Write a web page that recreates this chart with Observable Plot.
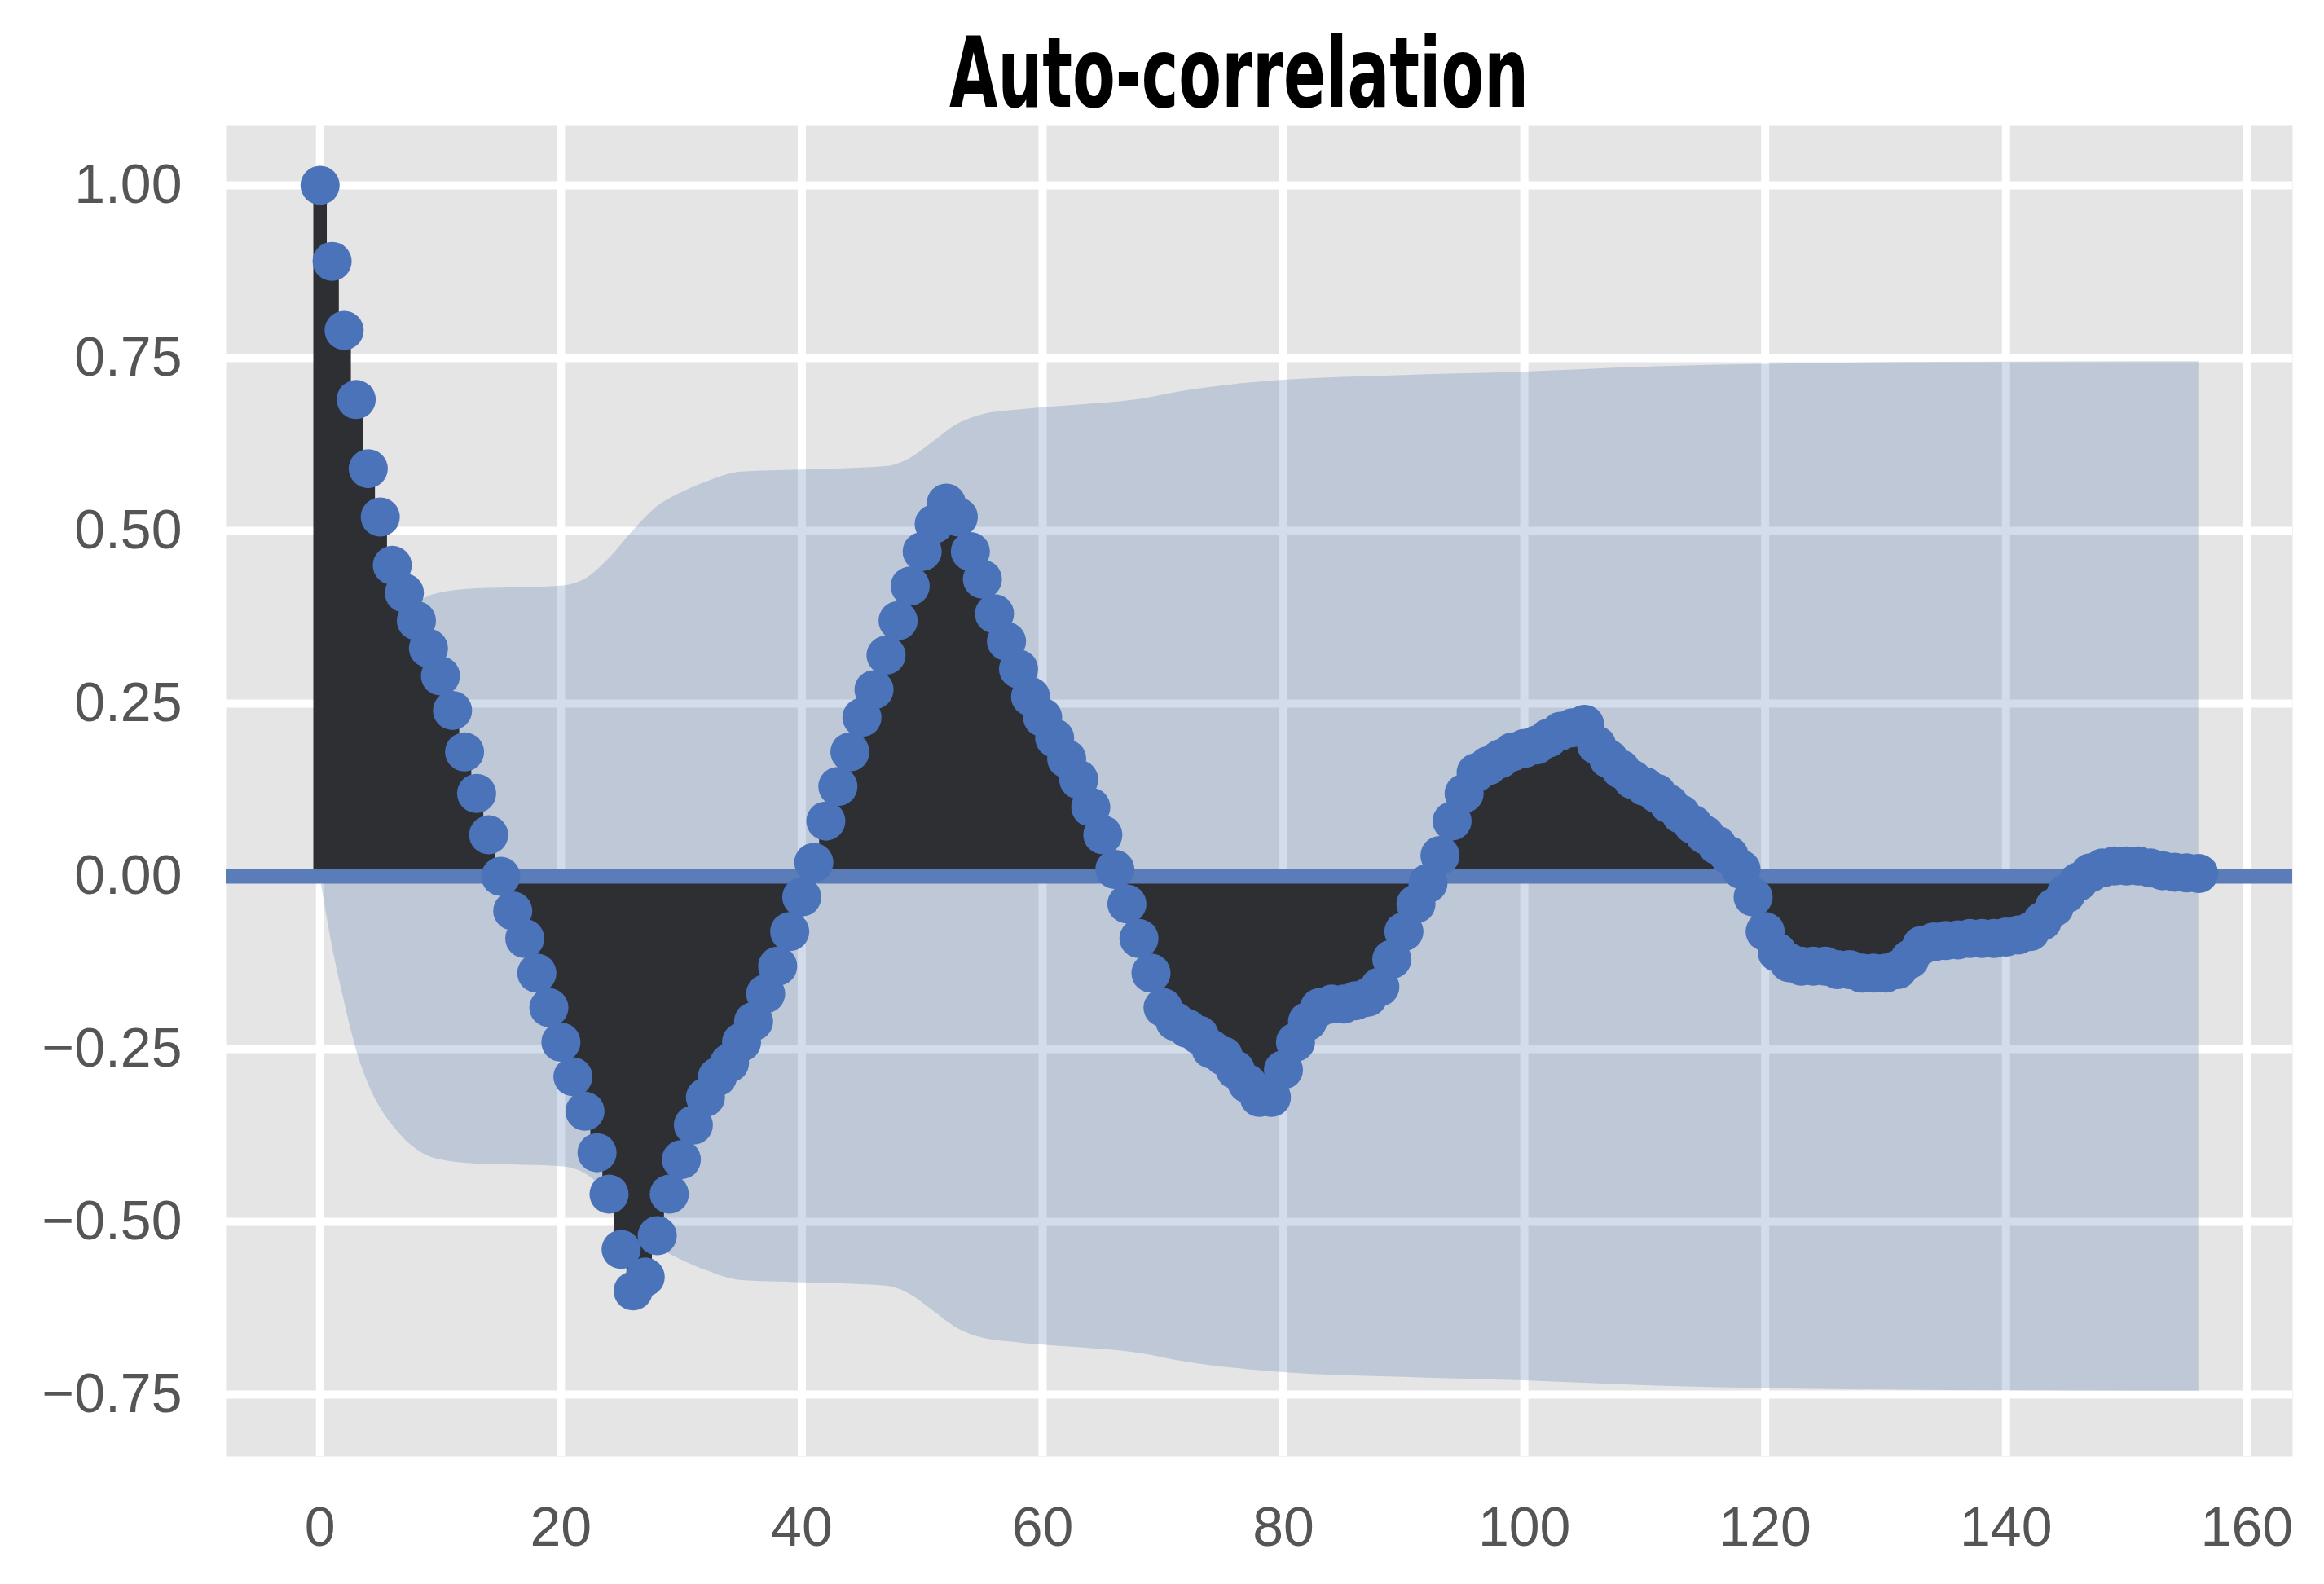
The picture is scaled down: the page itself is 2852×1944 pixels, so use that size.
<!DOCTYPE html>
<html>
<head>
<meta charset="utf-8">
<script src="https://cdn.jsdelivr.net/npm/d3@7"></script>
<script src="https://cdn.jsdelivr.net/npm/@observablehq/plot@0.6"></script>
<style>
  html, body { margin: 0; padding: 0; background: #ffffff; }
  #page { position: relative; width: 2852px; height: 1944px; }
  #titlebox { position: absolute; left: 0; top: 0; width: 2852px; height: 150px; }
  #title {
    position: absolute; top: 30px; left: 1164px;
    font-family: 'Liberation Sans Narrow', 'DejaVu Sans Condensed', 'Liberation Sans', sans-serif;
    font-weight: 700; font-size: 120px; line-height: 120px; color: #000;
    white-space: nowrap; transform-origin: 0 0;
  }
  #chart { position: absolute; left: 0; top: 150px; }
</style>
</head>
<body>
<div id="page">
  <div id="titlebox"><span id="title">Auto-correlation</span></div>
  <div id="chart"></div>
</div>
<script>
// Autocorrelation value at each lag (lags 0..156)
const acf = [
  1.00, 0.89, 0.79, 0.69, 0.59, 0.52, 0.45, 0.41, 0.37, 0.33,
  0.29, 0.24, 0.18, 0.12, 0.06, 0.00, -0.05, -0.09, -0.14, -0.19,
  -0.24, -0.29, -0.34, -0.40, -0.46, -0.54, -0.60, -0.58, -0.52, -0.46,
  -0.41, -0.36, -0.32, -0.29, -0.27, -0.24, -0.21, -0.17, -0.13, -0.08,
  -0.03, 0.02, 0.08, 0.13, 0.18, 0.23, 0.27, 0.32, 0.37, 0.42,
  0.47, 0.51, 0.54, 0.52, 0.47, 0.43, 0.38, 0.34, 0.30, 0.26,
  0.23, 0.20, 0.17, 0.14, 0.10, 0.06, 0.01, -0.04, -0.09, -0.14,
  -0.19, -0.21, -0.22, -0.23, -0.25, -0.26, -0.28, -0.30, -0.32, -0.32,
  -0.28, -0.24, -0.21, -0.19, -0.185, -0.185, -0.18, -0.175, -0.16, -0.12,
  -0.08, -0.04, -0.01, 0.03, 0.08, 0.12, 0.15, 0.16, 0.17, 0.18,
  0.185, 0.19, 0.20, 0.21, 0.215, 0.22, 0.19, 0.17, 0.155, 0.14,
  0.13, 0.12, 0.105, 0.09, 0.075, 0.06, 0.045, 0.03, 0.01, -0.03,
  -0.08, -0.11, -0.125, -0.13, -0.13, -0.13, -0.135, -0.135, -0.14, -0.14,
  -0.14, -0.135, -0.12, -0.10, -0.095, -0.093, -0.092, -0.09, -0.09, -0.09,
  -0.088, -0.085, -0.08, -0.065, -0.045, -0.025, -0.008, 0.005, 0.012, 0.015,
  0.015, 0.015, 0.012, 0.008, 0.006, 0.005, 0.004
];
const lags = acf.map((_, i) => i);

// Confidence band half-width (symmetric around 0), read at these lags
const bandLags = [0, 1, 2, 3, 4, 5, 6, 7, 8, 9, 10, 12, 20, 22, 24, 26, 28, 30, 32, 35, 40, 47, 49, 51, 53, 55, 58, 63, 68, 72, 76, 80, 90, 100, 110, 120, 135, 156];
const bandHalf = [0, 0.10, 0.18, 0.25, 0.30, 0.335, 0.36, 0.38, 0.395, 0.405, 0.41, 0.415, 0.42, 0.43, 0.46, 0.50, 0.535, 0.555, 0.57, 0.585, 0.588, 0.593, 0.605, 0.63, 0.655, 0.668, 0.675, 0.682, 0.69, 0.703, 0.712, 0.718, 0.725, 0.73, 0.737, 0.741, 0.744, 0.745];

const xTicks = [0, 20, 40, 60, 80, 100, 120, 140, 160];
const yTicks = [-0.75, -0.50, -0.25, 0.00, 0.25, 0.50, 0.75, 1.00];

const rows = lags.map((lag, i) => ({lag, value: acf[i]}));
const band = bandLags.map((lag, i) => ({lag, h: bandHalf[i]}));

// Fit the condensed title to the width it has in the reference
(function fitTitle() {
  const t = document.getElementById("title");
  const w = t.getBoundingClientRect().width;
  const target = 711;
  if (w > 0) t.style.transform = `scaleX(${target / w})`;
  t.style.left = (1520 - target / 2) + "px";
})();

const chart = Plot.plot({
  width: 2852,
  height: 1794,
  marginTop: 4,
  marginBottom: 157,
  marginLeft: 277,
  marginRight: 39,
  style: {fontFamily: "'Liberation Sans', Arial, sans-serif", fontSize: "68px", color: "#555555", background: "#ffffff"},
  x: {domain: [-7.8, 163.8]},
  y: {domain: [-0.8396, 1.086]},
  marks: [
    Plot.frame({fill: "#e5e5e5", stroke: "none"}),
    Plot.gridX(xTicks, {stroke: "#ffffff", strokeOpacity: 1, strokeWidth: 10}),
    Plot.gridY(yTicks, {stroke: "#ffffff", strokeOpacity: 1, strokeWidth: 10}),
    Plot.areaY(band, {x: "lag", y1: d => -d.h, y2: d => d.h, fill: "#4c72b0", fillOpacity: 0.25, curve: "monotone-x"}),
    Plot.ruleX(rows, {x: "lag", y1: 0, y2: "value", stroke: "#2e2f33", strokeWidth: 16.5}),
    Plot.ruleY([0], {stroke: "#5a7cb8", strokeWidth: 18}),
    Plot.dot(rows, {x: "lag", y: "value", r: 24, fill: "#4b73b9", stroke: "none"}),
    Plot.axisX(xTicks, {tickSize: 0, tickPadding: 61, fontSize: 68, label: null, tickFormat: d3.format("d")}),
    Plot.axisY(yTicks, {tickSize: 0, tickPadding: 54, fontSize: 68, label: null, tickFormat: d3.format(".2f")})
  ]
});
document.getElementById("chart").appendChild(chart);
</script>
</body>
</html>
